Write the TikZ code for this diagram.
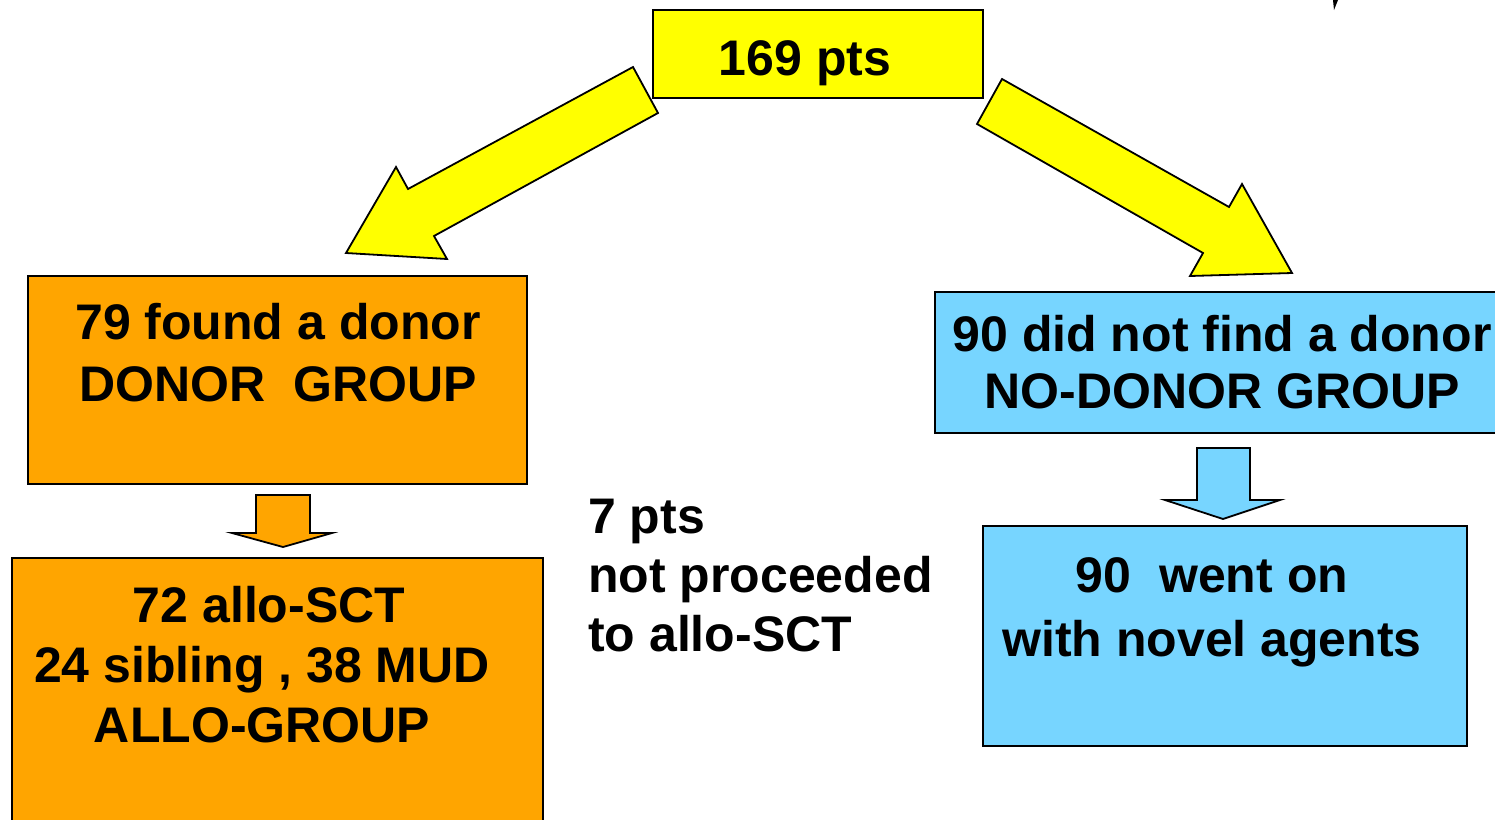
\documentclass[tikz,border=0pt]{standalone}
\usepackage{fontspec}
\setmainfont{Liberation Sans}
\usetikzlibrary{positioning}
\definecolor{ptsyellow}{HTML}{FFFF00}
\definecolor{donororange}{HTML}{FFA500}
\definecolor{nodonorblue}{HTML}{77D5FF}

\tikzset{
	box/.style={draw, line width=1.8pt, inner sep=0pt, outer sep=0pt},
	boxtext/.style={font=\bfseries\fontsize{50}{62}\selectfont, align=center, inner sep=0pt},
	blockarrow/.style={draw, line width=1.8pt, line join=miter},
}

\begin{document}
\begin{tikzpicture}[x=1pt,y=-1pt]
	\clip (0,0) rectangle (1495,819);
	% boxes
	\node[box, fill=ptsyellow, minimum width=330pt, minimum height=88pt] (total) at (818,54) {};
	\node[box, fill=donororange, minimum width=499pt, minimum height=208pt] (donor) at (277.5,380) {};
	\node[box, fill=donororange, minimum width=531pt, minimum height=342pt] (allo) at (277.5,729) {};
	\node[box, fill=nodonorblue, minimum width=605pt, minimum height=141pt] (nodonor) at (1237.5,362.5) {};
	\node[box, fill=nodonorblue, minimum width=484pt, minimum height=220pt] (novel) at (1225,636) {};
	% texts
	\node[boxtext, anchor=base] (totaltxt) at (805,75) {169 pts};
	\node[boxtext, anchor=north] (donortxt) at (278,303.5) {79 found a donor\\DONOR\ \ GROUP};
	\node[boxtext, anchor=north, font=\bfseries\fontsize{50}{60}\selectfont] (allotxt) at (262,586.5) {\hspace*{14pt}72 allo-SCT\\24 sibling , 38 MUD\hspace*{8pt}\\ALLO-GROUP};
	\node[boxtext, anchor=north west, align=left, font=\bfseries\fontsize{50}{59}\selectfont] (notproc) at (588,499) {7 pts\\not proceeded\\to allo-SCT};
	\node[boxtext, anchor=north, font=\bfseries\fontsize{50}{57}\selectfont] (nodonortxt) at (1222,315.5) {90 did not find a donor\\NO-DONOR GROUP};
	\node[boxtext, anchor=north, font=\bfseries\fontsize{50}{64}\selectfont] (noveltxt) at (1212,557) {90\ \ went on\\with novel agents};
	% arrows
	\draw[blockarrow, fill=ptsyellow] (633,67) -- (658,113) -- (434,236) -- (447,259) -- (346,253) -- (396,167) -- (408,189) -- cycle;
	\draw[blockarrow, fill=ptsyellow] (1002,79) -- (1229,207) -- (1242,184) -- (1292,273) -- (1190,276) -- (1203,253) -- (977,124) -- cycle;
	\draw[blockarrow, fill=donororange] (256,495) -- (310,495) -- (310,533) -- (332,533) -- (283,547) -- (232,533) -- (256,533) -- cycle;
	\draw[blockarrow, fill=nodonorblue] (1197,448) -- (1250,448) -- (1250,500) -- (1280,500) -- (1223,519) -- (1165,500) -- (1197,500) -- cycle;
	\fill (1333,0) -- (1338,0) -- (1334,10) -- cycle;
\end{tikzpicture}
\end{document}
